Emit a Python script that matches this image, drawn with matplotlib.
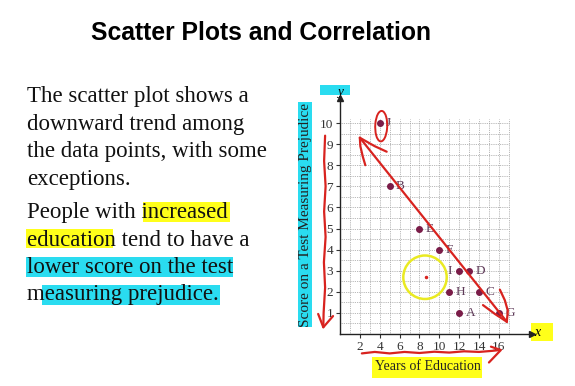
import matplotlib
matplotlib.use("Agg")
import matplotlib.pyplot as plt
from matplotlib.patches import Rectangle, Ellipse

# ---------------- data ----------------
labels = ['A', 'B', 'C', 'D', 'E', 'F', 'G', 'H', 'I', 'J']
years = [12, 5, 14, 13, 8, 10, 16, 11, 12, 4]
scores = [1, 7, 2, 3, 5, 4, 1, 2, 3, 10]
x_ticks = [2, 4, 6, 8, 10, 12, 14, 16]
y_ticks = [1, 2, 3, 4, 5, 6, 7, 8, 9, 10]

title = "Scatter Plots and Correlation"
para1 = ["The scatter plot shows a", "downward trend among",
         "the data points, with some", "exceptions."]
para2 = ["People with increased", "education tend to have a",
         "lower score on the test", "measuring prejudice."]
xlabel = "Years of Education"
ylabel = "Score on a Test Measuring Prejudice"

W, H = 575, 386
fig = plt.figure(figsize=(W / 100, H / 100), dpi=100)
SERIF = ['Liberation Serif', 'DejaVu Serif']


def fx(px):
    return px / W


def fy(py):
    return 1 - py / H


def hl(x0, y0, x1, y1, color):
    fig.patches.append(Rectangle((fx(x0), fy(y1)), fx(x1) - fx(x0), fy(y0) - fy(y1),
                                 transform=fig.transFigure, color=color, zorder=-5, lw=0))


YEL = '#ffff1a'
CYA = '#2adcf0'

# title
fig.text(fx(261), fy(39.5), title, ha='center', va='baseline',
         family=['Liberation Sans', 'DejaVu Sans'], weight='bold', fontsize=17.8)

# left text highlights
hl(143, 202, 230, 222, YEL)
hl(26, 229, 113, 248, YEL)
hl(26, 257, 233, 277, CYA)
hl(42, 285, 220, 305, CYA)

for i, line in enumerate(para1):
    fig.text(fx(26.7), fy(101.7 + i * 27.8), line, family=SERIF, fontsize=16.5,
             va='baseline', ha='left', color='#111111')
for i, line in enumerate(para2):
    fig.text(fx(26.7), fy(218.3 + i * 27.3), line, family=SERIF, fontsize=16.5,
             va='baseline', ha='left', color='#111111')

# plot highlights
hl(298, 102, 312, 327, CYA)
hl(320, 85, 350, 95, CYA)
hl(531, 323, 553, 341, YEL)
hl(372, 357, 482, 378, YEL)

# axis titles
fig.text(fx(305), fy(215), ylabel, rotation=90, ha='center', va='center',
         family=SERIF, fontsize=11, color='#222222')
fig.text(fx(428), fy(366), xlabel, ha='center', va='center',
         family=SERIF, fontsize=10, color='#222222')

# ---------------- axes ----------------
XMAX, YMAX = 19.3, 11.2
ux, uy = 9.93, 21.1
ax = fig.add_axes([fx(340), fy(334), XMAX * ux / W, YMAX * uy / H])
ax.patch.set_visible(False)
ax.set_xlim(0, XMAX)
ax.set_ylim(0, YMAX)
for s in ['top', 'right']:
    ax.spines[s].set_visible(False)
for s in ['left', 'bottom']:
    ax.spines[s].set_linewidth(1.0)
    ax.spines[s].set_color('#222222')
ax.plot(1, 0, '>', color='#222222', ms=5, transform=ax.get_yaxis_transform(), clip_on=False)
ax.plot(0, 1, '^', color='#222222', ms=5, transform=ax.get_xaxis_transform(), clip_on=False)

# grid
for gx in range(1, 18):
    ax.plot([gx, gx], [0, 10.2], ls=(0, (1, 1.2)), color='#a0a0a0', lw=0.6, zorder=1)
for k in range(1, 21):
    gy = k * 0.5
    ax.plot([0, 17], [gy, gy], ls=(0, (1, 1.2)), color='#a0a0a0', lw=0.6, zorder=1)

ax.set_xticks(x_ticks)
ax.set_yticks(y_ticks)
ax.set_xticklabels([str(v) for v in x_ticks], family=SERIF, fontsize=9.5, color='#333333')
ax.set_yticklabels([str(v) for v in y_ticks], family=SERIF, fontsize=9.5, color='#333333')
ax.tick_params(length=3, width=0.8, color='#333333', pad=2)

ax.text(0, 11.45, 'y', family=SERIF, style='italic', fontsize=9.5, ha='center',
        va='center', clip_on=False)
ax.text(19.9, 0.05, 'x', family=SERIF, style='italic', fontsize=10, ha='center',
        va='center', clip_on=False)

# points
ax.scatter(years, scores, s=16, color='#7a1c48', zorder=4, clip_on=False)
for lab, xv, yv in zip(labels, years, scores):
    if lab == 'I':
        ax.annotate(lab, (xv, yv), xytext=(-5, 0), textcoords='offset points',
                    ha='right', va='center', family=SERIF, fontsize=9.5, color='#5e3a58')
    else:
        ax.annotate(lab, (xv, yv), xytext=(4.5, 0), textcoords='offset points',
                    ha='left', va='center', family=SERIF, fontsize=9.5, color='#5e3a58')

# ---------------- hand-drawn annotations ----------------
RED = '#d8231f'
kw = dict(color=RED, lw=1.6, solid_capstyle='round', clip_on=False, zorder=6)
ax.plot([2.0, 16.8], [9.3, 0.58], **kw)
ax.plot([2.0, 2.05, 2.3, 2.55], [9.3, 8.9, 8.4, 8.0], **kw)
ax.plot([2.0, 3.5, 4.7], [9.3, 8.9, 8.64], **kw)
ax.plot([14.4, 15.6, 16.8], [1.37, 0.95, 0.58], **kw)
ax.plot([16.1, 16.6, 16.9, 16.8], [2.1, 1.6, 1.1, 0.58], **kw)
ax.add_patch(Ellipse((4.15, 9.85), 1.2, 1.45, fill=False, ec=RED, lw=1.4, zorder=6, angle=-10))
# wavy under x labels
ax.plot([2.2, 3.5, 5.0, 6.5, 8.0, 9.5, 11.0, 12.5, 14.0, 15.3, 16.1],
        [-0.92, -0.85, -0.92, -0.85, -0.9, -0.84, -0.88, -0.82, -0.85, -0.8, -0.76], **kw)
ax.plot([15.2, 16.2, 15.0], [-0.6, -0.76, -1.35], **kw)
# wavy along y axis
ax.plot([-1.5, -1.6, -1.45, -1.6, -1.45, -1.62, -1.5, -1.65, -1.68],
        [9.4, 8.2, 7.0, 5.8, 4.6, 3.4, 2.2, 1.0, 0.32], **kw)
ax.plot([-2.2, -1.68, -0.7], [0.95, 0.32, 0.85], **kw)

ax.add_patch(Ellipse((8.56, 2.69), 4.37, 2.06, fill=False, ec='#eaea22', lw=1.8, zorder=5))
ax.plot([8.65], [2.7], 'o', ms=1.5, color=RED, zorder=6)

fig.savefig('out.png', dpi=100)
